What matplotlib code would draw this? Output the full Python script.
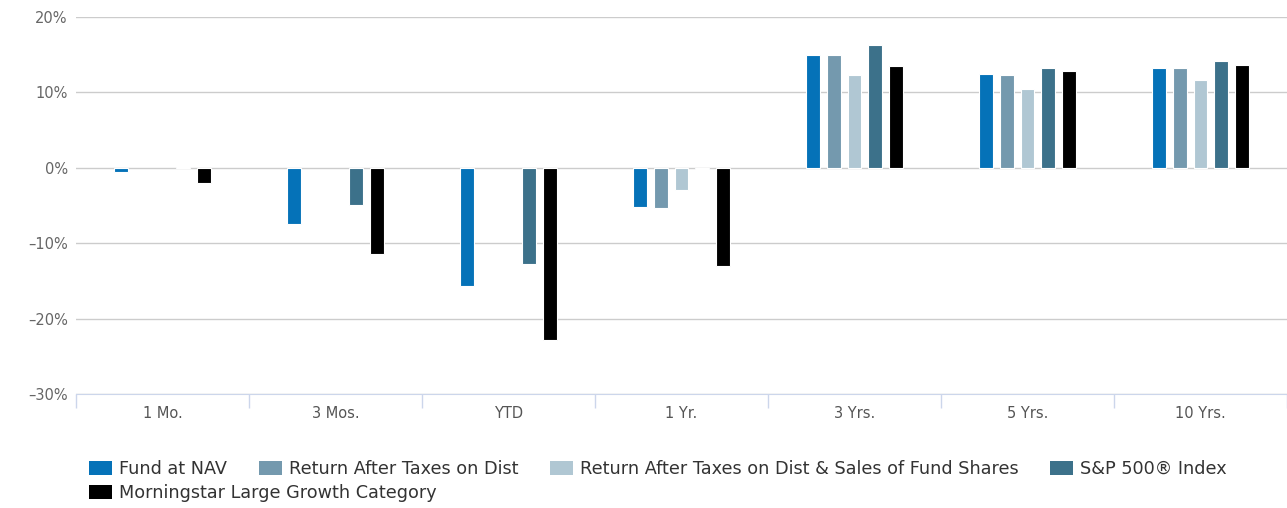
import numpy as np
import matplotlib
matplotlib.use("Agg")
import matplotlib.pyplot as plt
from matplotlib.patches import Patch

# ================================
# DATA
# ================================
categories = ["1 Mo.", "3 Mos.", "YTD", "1 Yr.", "3 Yrs.", "5 Yrs.", "10 Yrs."]
series_names = [
    "Fund at NAV",
    "Return After Taxes on Dist",
    "Return After Taxes on Dist & Sales of Fund Shares",
    "S&P 500\u00ae Index",
    "Morningstar Large Growth Category",
]
fund_nav = [-0.5, -7.4, -15.7, -5.2, 15.0, 12.5, 13.3]
after_tax_dist = [np.nan, np.nan, np.nan, -5.3, 14.9, 12.3, 13.2]
after_tax_sales = [np.nan, np.nan, np.nan, -3.0, 12.3, 10.4, 11.6]
sp500 = [0.05, -5.0, -12.8, -0.2, 16.3, 13.2, 14.2]
morningstar = [-2.0, -11.4, -22.8, -13.0, 13.5, 12.8, 13.7]
y_ticks = [-30, -20, -10, 0, 10, 20]

series = [fund_nav, after_tax_dist, after_tax_sales, sp500, morningstar]
colors = ["#0572b8", "#7499ae", "#b0c7d3", "#3c718a", "#000000"]

# ================================
# PLOT
# ================================
fig = plt.figure(figsize=(12.87, 5.08), dpi=100)
ax = fig.add_axes([76 / 1287, 1 - 394 / 508, 1 - 76 / 1287, (394 - 17) / 508])

x = np.arange(len(categories))
bar_w = 0.08
step = 0.12
for i, (vals, col) in enumerate(zip(series, colors)):
    ax.bar(x + (i - 2) * step, vals, width=bar_w, color=col,
           edgecolor="white", linewidth=0.8, zorder=3)

ax.set_xlim(-0.5, len(categories) - 0.5)
ax.set_ylim(-30, 20)
ax.set_yticks(y_ticks)
ax.set_yticklabels([f"{t}%".replace("-", "\u2013") for t in y_ticks])
ax.yaxis.grid(True, color="#cccccc", linewidth=1, zorder=0)
ax.tick_params(axis="y", length=0, pad=6, labelsize=10.5, labelcolor="#666666")

ax.set_xticks(x)
ax.set_xticklabels(categories)
ax.set_xticks(np.arange(len(categories) + 1) - 0.5, minor=True)
ax.tick_params(axis="x", which="major", length=0, pad=9, labelsize=10.5,
               labelcolor="#555555")
ax.tick_params(axis="x", which="minor", length=10, width=1, color="#ccd6eb")

for s in ["top", "right", "left"]:
    ax.spines[s].set_visible(False)
ax.spines["bottom"].set_color("#ccd6eb")

# ================================
# LEGEND (two rows, row-major)
# ================================
handles = [Patch(facecolor=c, edgecolor="none") for c in colors]
leg_kw = dict(frameon=False, fontsize=12.7, handlelength=1.3, handleheight=0.9,
              handletextpad=0.4, columnspacing=1.8, borderpad=0, borderaxespad=0,
              labelcolor="#333333")
leg1 = fig.legend(handles[:4], series_names[:4], ncol=4, loc="upper left",
                  bbox_to_anchor=(89 / 1287, 1 - 460 / 508), **leg_kw)
leg2 = fig.legend(handles[4:], series_names[4:], ncol=1, loc="upper left",
                  bbox_to_anchor=(89 / 1287, 1 - 484 / 508), **leg_kw)

fig.savefig("out.png", dpi=100)
plt.close(fig)
